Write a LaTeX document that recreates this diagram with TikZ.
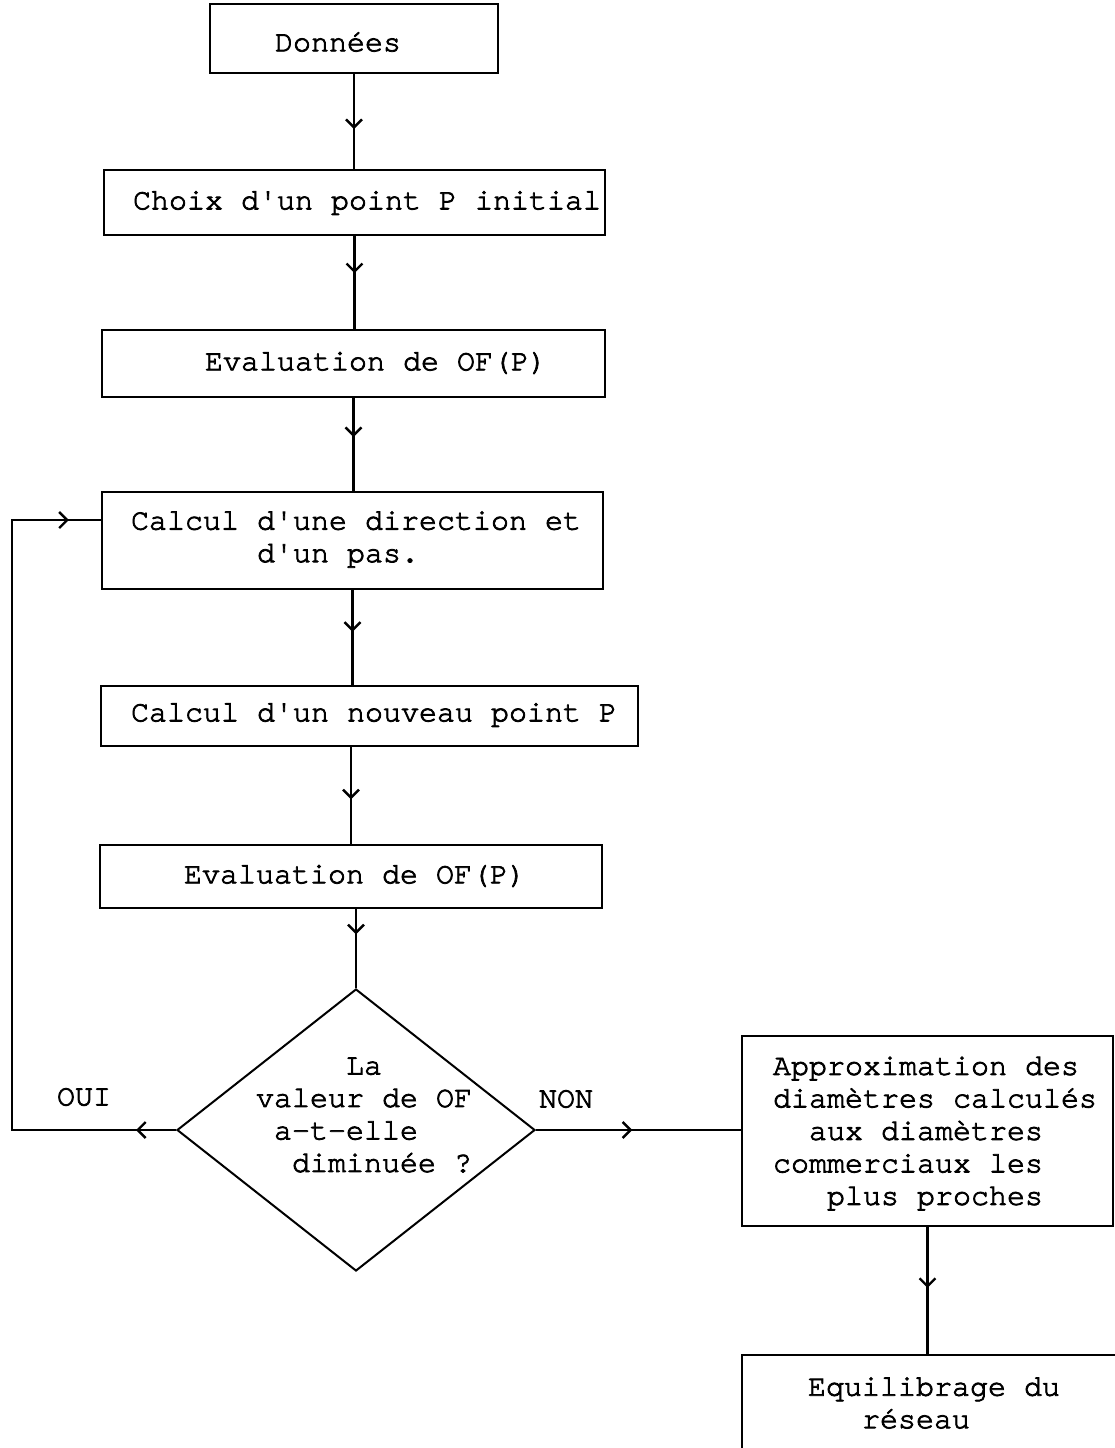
\documentclass[tikz,border=0pt]{standalone}
\usepackage{fontspec}
\setmonofont[FakeBold=2.6]{texgyrecursor-regular.otf}
\usetikzlibrary{shapes.geometric,arrows.meta,decorations.markings}
\newcommand\chevtip{\arrow{Straight Barb[length=8pt,width=16pt,line width=2.4pt]}}
\begin{document}
\begin{tikzpicture}[x=1pt,y=-1pt,
  box/.style={draw, line width=2.2pt, rectangle, inner sep=0pt},
  txt/.style={font=\ttfamily\fontsize{30}{32.5}\selectfont, inner sep=0pt, align=left},
  flow/.style={line width=2.2pt},
  chev/.style={flow, postaction={decorate},
    decoration={markings, mark=at position #1 with {\chevtip}}}]
\fill[white] (0,0) rectangle (1115,1448);
\useasboundingbox (0,0) rectangle (1115,1448);
\clip (0,0) rectangle (1115,1448);

% process boxes
\node[box, minimum width=288pt, minimum height=69pt] (donnees) at (354,38.5) {};
\node[box, minimum width=501pt, minimum height=65pt] (choix) at (354.5,202.5) {};
\node[box, minimum width=503pt, minimum height=67pt] (evalA) at (353.5,363.5) {};
\node[box, minimum width=501pt, minimum height=97pt] (calc) at (352.5,540.5) {};
\node[box, minimum width=537pt, minimum height=60pt] (nouveau) at (369.5,716) {};
\node[box, minimum width=502pt, minimum height=63pt] (evalB) at (351,876.5) {};
\node[diamond, draw, line width=2pt, inner sep=0pt,
      minimum width=358pt, minimum height=282pt] (dia) at (356,1130) {};
\node[box, minimum width=371pt, minimum height=190pt] (approx) at (927.5,1131) {};
\node[box, minimum width=400pt, minimum height=135pt] (equil) at (942,1422.5) {};

% texts
\node[txt] (tDonnees) at (338,42) {Données};
\node[txt] (tChoix) at (367,203) {Choix d'un point P initial};
\node[txt] (tEvalA) at (376,363) {Evaluation de OF(P)};
\node[txt] (tCalc) at (356,539.5) {Calcul d'une direction et\\\hspace*{4.2em}d'un pas.};
\node[txt] (tNouveau) at (374,715) {Calcul d'un nouveau point P};
\node[txt] (tEvalB) at (355,876) {Evaluation de OF(P)};
\node[txt] (tDia) at (364,1115) {\hspace*{3em}La\\valeur de OF\\\hspace*{0.6em}a-t-elle\\\hspace*{1.2em}diminuée ?};
\node[txt] (tOui) at (84,1097) {OUI};
\node[txt] (tNon) at (566,1099) {NON};
\node[txt] (tApprox) at (935,1133.5) {Approximation des\\diamètres calculés\\\hspace*{1.2em}aux diamètres\\commerciaux les\\\hspace*{1.8em}plus proches};
\node[txt] (tEquil) at (934,1403) {Equilibrage du\\\hspace*{1.8em}réseau};

% connectors
\draw[chev=0.58] (donnees.south) -- (donnees.south |- choix.north);
\draw[chev=0.4] (choix.south) -- (choix.south |- evalA.north);
\draw[chev=0.42] (evalA.south) -- (evalA.south |- calc.north);
\draw[chev=0.44] (calc.south) -- (calc.south |- nouveau.north);
\draw[chev=0.54] (evalB.north |- nouveau.south) -- (evalB.north);
\draw[chev=0.32] (dia.north |- evalB.south) -- (dia.north);
\draw[chev=0.48] (approx.south) -- (approx.south |- equil.north);
\draw[chev=0.47] (dia.east) -- (approx.west |- dia.east);

% loop back on OUI
\coordinate (loopA) at (12,1130);
\coordinate (loopB) at (12,520);
\draw[flow, postaction={decorate},
  decoration={markings,
    mark=at position 40pt with {\chevtip},
    mark=at position -32pt with {\chevtip}}]
  (dia.west) -- (loopA) -- (loopB) -- (loopB -| calc.west);
\end{tikzpicture}
\end{document}
